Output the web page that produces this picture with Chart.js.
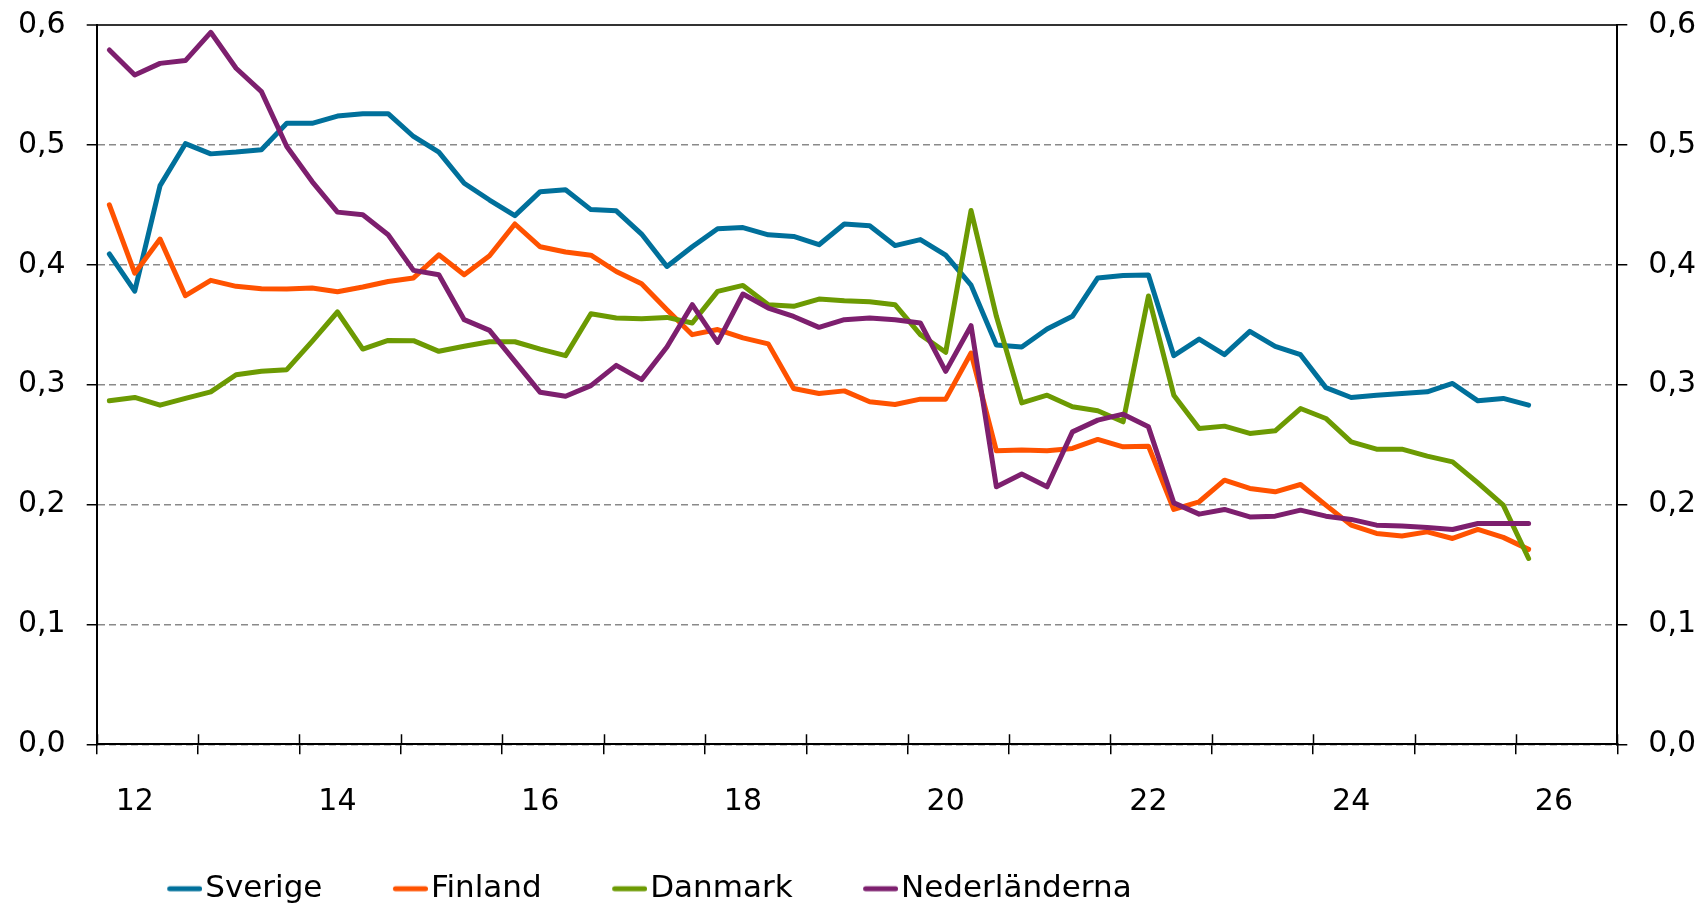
<!DOCTYPE html>
<html>
<head>
<meta charset="utf-8">
<script src="https://cdn.jsdelivr.net/npm/chart.js@4.4.1/dist/chart.umd.min.js"></script>
<style>
  html, body { margin: 0; padding: 0; background: #fff; }
  canvas { display: block; }
</style>
</head>
<body>
<canvas id="chart" width="1706" height="906"></canvas>
<script>
// quarters on the x axis, 2011 Q4 .. 2026 Q3 (data runs to 2025 Q4)
const quarters = [
  '11K4',
  '12K1', '12K2', '12K3', '12K4', '13K1', '13K2', '13K3', '13K4',
  '14K1', '14K2', '14K3', '14K4', '15K1', '15K2', '15K3', '15K4',
  '16K1', '16K2', '16K3', '16K4', '17K1', '17K2', '17K3', '17K4',
  '18K1', '18K2', '18K3', '18K4', '19K1', '19K2', '19K3', '19K4',
  '20K1', '20K2', '20K3', '20K4', '21K1', '21K2', '21K3', '21K4',
  '22K1', '22K2', '22K3', '22K4', '23K1', '23K2', '23K3', '23K4',
  '24K1', '24K2', '24K3', '24K4', '25K1', '25K2', '25K3', '25K4',
  '26K1', '26K2', '26K3'
];
const yearLabels = ['12', '14', '16', '18', '20', '22', '24', '26'];

const sverige = [0.409, 0.378, 0.466, 0.501, 0.4925, 0.494, 0.496, 0.518, 0.518, 0.524,
  0.526, 0.526, 0.507, 0.494, 0.468, 0.454, 0.441, 0.461, 0.4625, 0.446,
  0.445, 0.4256, 0.3986, 0.415, 0.430, 0.431, 0.425, 0.4236, 0.4167, 0.434,
  0.4325, 0.416, 0.421, 0.408, 0.383, 0.333, 0.3314, 0.3464, 0.357, 0.389,
  0.391, 0.3914, 0.3242, 0.338, 0.325, 0.3444, 0.332, 0.325, 0.2975, 0.2893,
  0.2912, 0.2926, 0.294, 0.301, 0.2865, 0.2885, 0.2829];
const finland = [0.45, 0.393, 0.4214, 0.3742, 0.387, 0.382, 0.38, 0.3797, 0.3806, 0.3775,
  0.3814, 0.386, 0.389, 0.4083, 0.3917, 0.4075, 0.434, 0.415, 0.4106, 0.408,
  0.3944, 0.3842, 0.3625, 0.3417, 0.346, 0.339, 0.334, 0.2968, 0.2926, 0.2948,
  0.2857, 0.2835, 0.2879, 0.2879, 0.3264, 0.2448, 0.2454, 0.2448, 0.2468, 0.2543,
  0.2481, 0.2487, 0.1959, 0.2023, 0.2203, 0.2134, 0.2106, 0.2167, 0.1995, 0.1828,
  0.1759, 0.1737, 0.1772, 0.1717, 0.1792, 0.1726, 0.1626];
const danmark = [0.2865, 0.2893, 0.2829, 0.2885, 0.294, 0.3083, 0.3111, 0.3125, 0.3361, 0.3606,
  0.3297, 0.3369, 0.3367, 0.3278, 0.332, 0.3358, 0.3358, 0.3297, 0.3242, 0.3592,
  0.3556, 0.355, 0.3561, 0.3514, 0.3778, 0.3828, 0.3667, 0.3653, 0.3714, 0.37,
  0.3692, 0.3667, 0.3417, 0.327, 0.4453, 0.357, 0.2848, 0.2912, 0.2815, 0.2782,
  0.269, 0.374, 0.2912, 0.2635, 0.2654, 0.2593, 0.2615, 0.2801, 0.2718, 0.2523,
  0.2462, 0.2462, 0.2404, 0.2356, 0.2181, 0.1995, 0.155];
const nederlanderna = [0.5792, 0.5583, 0.568, 0.5703, 0.5939, 0.5639, 0.5444, 0.4986, 0.4694, 0.4439,
  0.4417, 0.425, 0.3953, 0.3917, 0.3542, 0.3453, 0.3194, 0.2936, 0.2903, 0.2992,
  0.3161, 0.3042, 0.3314, 0.3667, 0.3353, 0.3756, 0.3639, 0.3569, 0.3478, 0.3542,
  0.3556, 0.3542, 0.3514, 0.3111, 0.3492, 0.2148, 0.2254, 0.2148, 0.2606, 0.2704,
  0.2754, 0.2648, 0.2014, 0.192, 0.1959, 0.1897, 0.1903, 0.1953, 0.1903, 0.1876,
  0.1828, 0.182, 0.1809, 0.1792, 0.1842, 0.1842, 0.1842];

const colors = ['#00709B', '#FF5200', '#6C9A02', '#7D1F6E'];

Chart.defaults.font.family = 'Verdana, "DejaVu Sans", sans-serif';
Chart.defaults.color = '#000';

// legend sample: short line sitting right before the text, like Excel does it
function legendLine(color) {
  const c = document.createElement('canvas');
  c.width = 70;
  c.height = 10;
  const g = c.getContext('2d');
  g.strokeStyle = color;
  g.lineWidth = 5;
  g.lineCap = 'round';
  g.beginPath();
  g.moveTo(37.5, 5);
  g.lineTo(67.5, 5);
  g.stroke();
  return c;
}
const legendLines = colors.map(legendLine);

// x ticks cross the axis: add the part above it
const crossTicks = {
  id: 'crossTicks',
  afterDraw(chart) {
    const xs = chart.scales.x;
    const ctx = chart.ctx;
    const bottom = chart.chartArea.bottom;
    ctx.save();
    ctx.strokeStyle = '#000';
    ctx.lineWidth = 1.5;
    ctx.beginPath();
    for (let i = 0; i <= quarters.length; i += 4) {
      const px = Math.round(xs.getPixelForValue(i - 0.5)) + 0.5;
      ctx.moveTo(px, bottom - 10);
      ctx.lineTo(px, bottom);
    }
    ctx.stroke();
    ctx.restore();
  }
};

const fmt = v => v.toFixed(1).replace('.', ',');
const isTop = c => c.tick && Math.abs(c.tick.value - 0.6) < 1e-9;

// fixed axis width, and no extra room above/below for the end labels
function fixY(width) {
  return s => {
    s.width = width;
    s.paddingTop = 0;
    s.paddingBottom = 0;
  };
}

function line(label, data, color, order) {
  return {
    label: label,
    data: data,
    borderColor: color,
    backgroundColor: color,
    borderWidth: 5,
    pointRadius: 0,
    tension: 0,
    borderJoinStyle: 'round',
    borderCapStyle: 'round',
    order: order,
    yAxisID: 'y'
  };
}

new Chart(document.getElementById('chart'), {
  type: 'line',
  data: {
    labels: quarters,
    datasets: [
      line('Sverige', sverige, colors[0], 3),
      line('Finland', finland, colors[1], 2),
      line('Danmark', danmark, colors[2], 1),
      line('Nederländerna', nederlanderna, colors[3], 0)
    ]
  },
  options: {
    responsive: false,
    animation: false,
    layout: { padding: { left: 0, top: 25, right: 0, bottom: 0 } },
    scales: {
      x: {
        type: 'category',
        offset: true,
        grid: {
          display: true,
          drawOnChartArea: false,
          offset: true,
          tickLength: 10,
          lineWidth: 1.5,
          tickColor: c => (c.index === undefined || c.index % 4 === 0) ? '#000' : 'rgba(0,0,0,0)'
        },
        border: { display: true, color: '#000', width: 2 },
        ticks: {
          autoSkip: false,
          maxRotation: 0,
          minRotation: 0,
          padding: 30,
          font: { size: 30 },
          callback: (v, i) => i % 8 === 1 ? yearLabels[(i - 1) / 8] : ''
        },
        afterFit: s => { s.height = 80.9; }
      },
      y: {
        position: 'left',
        min: 0,
        max: 0.6,
        ticks: { stepSize: 0.1, padding: 21, font: { size: 30 }, callback: fmt },
        grid: {
          color: c => isTop(c) ? '#333' : '#8a8a8a',
          lineWidth: c => isTop(c) ? 2 : 1.5,
          tickLength: 10,
          tickColor: '#000',
          tickWidth: 1.5
        },
        border: { display: true, color: '#000', width: 2, dash: c => isTop(c) ? [] : [7, 4] },
        afterFit: fixY(96.7)
      },
      y2: {
        position: 'right',
        min: 0,
        max: 0.6,
        ticks: { stepSize: 0.1, padding: 21, font: { size: 30 }, callback: fmt },
        grid: { drawOnChartArea: false, tickLength: 10, tickColor: '#000', lineWidth: 1.5 },
        border: { display: true, color: '#000', width: 2 },
        afterFit: fixY(88.7)
      }
    },
    plugins: {
      legend: {
        position: 'bottom',
        fullSize: false,
        align: 'start',
        maxHeight: 80.8,
        labels: {
          usePointStyle: true,
          pointStyleWidth: 45,
          padding: 48,
          font: { size: 31 },
          color: '#000',
          sort: (a, b) => a.datasetIndex - b.datasetIndex,
          generateLabels: chart => Chart.defaults.plugins.legend.labels.generateLabels(chart)
            .map(it => Object.assign(it, { pointStyle: legendLines[it.datasetIndex] }))
        }
      },
      tooltip: { enabled: false }
    }
  },
  plugins: [crossTicks]
});
</script>
</body>
</html>
